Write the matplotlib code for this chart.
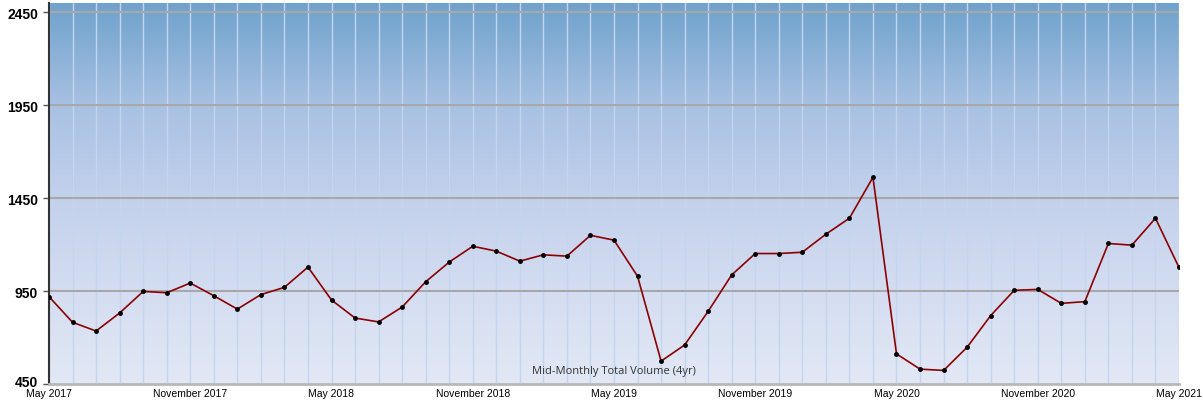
import numpy as np
import pandas as pd
import matplotlib
matplotlib.use('Agg')
import matplotlib.pyplot as plt
import matplotlib.transforms as mtransforms
from matplotlib.colors import LinearSegmentedColormap

# monthly values, May 2017 .. May 2021
months = pd.date_range('2017-05-01', '2021-05-01', freq='MS')
volume = [920, 782, 735, 832, 948, 941, 993, 925, 853, 931, 970, 1079,
          902, 805, 784, 864, 1000, 1106, 1191, 1165, 1111, 1145, 1138, 1250,
          1224, 1030, 573, 660, 841, 1037, 1152, 1152, 1159, 1256, 1342, 1562,
          612, 530, 523, 648, 818, 954, 959, 884, 893, 1206, 1197, 1342,
          1077]
y_ticks = [450, 950, 1450, 1950, 2450]
title = 'Mid-Monthly Total Volume (4yr)'

fig = plt.figure(figsize=(12.03, 4.02), dpi=100)
ax = fig.add_axes([49 / 1203, 17 / 402, 1130 / 1203, 381 / 402])

# background gradient
grad = LinearSegmentedColormap.from_list('bg', [
    (0.0, '#e2e8f5'), (0.244, '#d4ddf1'), (0.488, '#c3d1ec'),
    (0.732, '#a8c1e3'), (1.0, '#6fa2cc')])
ax.imshow(np.linspace(0, 1, 256).reshape(-1, 1), cmap=grad, origin='lower',
          extent=[0, 1, 0, 1], transform=ax.transAxes, aspect='auto', zorder=0)

x = np.arange(len(months))
for xi in x:
    ax.axvline(xi, color='#c4d5ef', lw=1, zorder=1)
for yt in y_ticks[1:]:
    ax.axhline(yt, color='#a8a8a8', lw=1.5, zorder=1)

ax.plot(x, volume, color='#8b0000', lw=1.2, marker='o', ms=2.5,
        mfc='black', mec='black', zorder=3)

ax.set_xlim(0, len(months) - 1)
ax.set_ylim(450, 2500)
ax.set_yticks(y_ticks)
ax.set_yticklabels([str(v) for v in y_ticks], fontfamily='Liberation Sans',
                   fontweight='bold', fontsize=10)
tick_pos = x[::6]
ax.set_xticks(tick_pos)
ax.set_xticklabels([months[i].strftime('%B %Y') for i in tick_pos],
                   fontfamily='Liberation Sans', fontsize=7.5)
ax.tick_params(axis='y', length=4, width=1, color='#555555', pad=4)
ax.tick_params(axis='x', length=0, pad=3)

# lift the bottom y label a little so it clears "May 2017"
lbl = ax.get_yticklabels()[0]
lbl.set_transform(lbl.get_transform() +
                  mtransforms.ScaledTranslation(0, 3 / 100, fig.dpi_scale_trans))

for s in ['top', 'right']:
    ax.spines[s].set_visible(False)
ax.spines['left'].set_color('#333333')
ax.spines['left'].set_linewidth(1.5)
ax.spines['bottom'].set_color('#b8b8b8')
ax.spines['bottom'].set_linewidth(2)

ax.text(0.5, 0.035, title, transform=ax.transAxes, ha='center', va='center',
        fontfamily='Open Sans', fontsize=8, color='#333333', zorder=4)

fig.savefig('out.png', dpi=100)
